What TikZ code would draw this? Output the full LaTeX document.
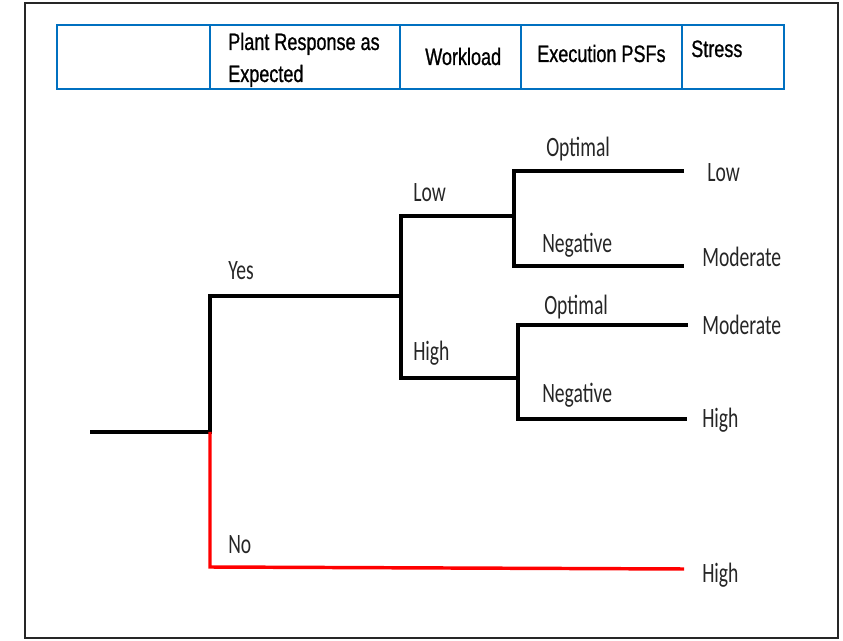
\documentclass[tikz,border=0pt]{standalone}
\usepackage{fontspec}
\newfontfamily\headfont{Liberation Sans}[FakeStretch=0.76,FakeBold=0.9]
\newfontfamily\treefont{Carlito}[FakeStretch=0.7]
\definecolor{tblue}{RGB}{0,112,192}
\definecolor{tred}{RGB}{255,0,0}
\begin{document}
\begin{tikzpicture}[x=0.75pt,y=-0.75pt,
  frame/.style={draw=black!85,line width=1.6pt},
  cell/.style={draw=tblue,line width=1.7pt},
  head/.style={anchor=base west,inner sep=0pt,font=\headfont\fontsize{17.8}{21}\selectfont,text=black},
  lbl/.style={anchor=base west,inner sep=0pt,font=\treefont\fontsize{21}{25}\selectfont,text=black!85},
  branch/.style={draw=black,line width=2.6pt},
  nobranch/.style={draw=tred,line width=2.6pt}]
\useasboundingbox (0,0) rectangle (843,641);

% outer frame
\draw[frame] (25,3) rectangle (838,638);

% header table
\draw[cell] (57,25) rectangle (784,89);
\foreach \cx in {210,400,521,682} \draw[cell] (\cx,25) -- (\cx,89);
\node[head] (h1) at (228,50) {Plant Response as};
\node[head] (h2) at (228,82) {Expected};
\node[head] (h3) at (425,65) {Workload};
\node[head] (h4) at (537,62) {Execution PSFs};
\node[head] (h5) at (691,57) {Stress};

% branch points
\coordinate (root) at (90,432);
\coordinate (s1) at (210,432);
\coordinate (yes) at (210,296);
\coordinate (s2) at (401,296);
\coordinate (wlow) at (401,216);
\coordinate (whigh) at (401,378);
\coordinate (s3) at (514,216);
\coordinate (s3a) at (514,171);
\coordinate (s3b) at (514,266);
\coordinate (s4) at (518,378);
\coordinate (s4a) at (518,325);
\coordinate (s4b) at (518,419);
\coordinate (no) at (210,567);

% leaf ends
\coordinate (e1) at (684,171);
\coordinate (e2) at (684,266);
\coordinate (e3) at (688,325);
\coordinate (e4) at (687,419);
\coordinate (e5) at (684,569);

% branches
\draw[branch] (root) -- (s1) -- (yes) -- (s2);
\draw[branch] (s2) -- (wlow) -- (s3);
\draw[branch] (s2) -- (whigh) -- (s4);
\draw[branch] (e1) -- (s3a) -- (s3b) -- (e2);
\draw[branch] (e3) -- (s4a) -- (s4b) -- (e4);
\draw[nobranch] (s1) -- (no) -- (e5);

% branch labels
\node[lbl] (lyes) at (228,280) {Yes};
\node[lbl] (lno) at (228,553) {No};
\node[lbl] (llow) at (413,202) {Low};
\node[lbl] (lhigh) at (413,361) {High};
\node[lbl] (lopt1) at (546,157) {Optimal};
\node[lbl] (lneg1) at (542,253) {Negative};
\node[lbl] (lopt2) at (544,315) {Optimal};
\node[lbl] (lneg2) at (542,403) {Negative};

% outcome labels
\node[lbl] (o1) at (707,182) {Low};
\node[lbl] (o2) at (702,267) {Moderate};
\node[lbl] (o3) at (702,335) {Moderate};
\node[lbl] (o4) at (702,428) {High};
\node[lbl] (o5) at (702,582) {High};
\end{tikzpicture}
\end{document}
